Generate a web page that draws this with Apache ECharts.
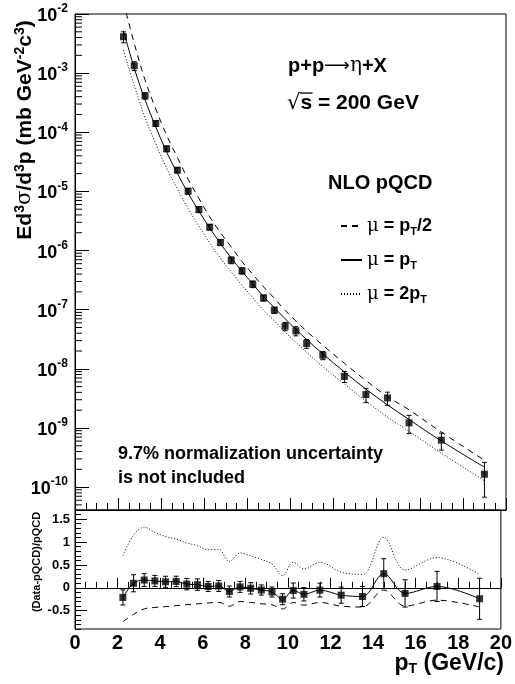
<!DOCTYPE html>
<html>
<head>
<meta charset="utf-8">
<script src="https://cdn.jsdelivr.net/npm/echarts@6/dist/echarts.min.js"></script>
<style>
  html, body { margin: 0; padding: 0; background: #fff; }
  #c { width: 515px; height: 684px; }
</style>
</head>
<body>
<div id="c"></div>
<script>
// Transverse momentum bin centres (GeV/c)
const pt = [2.25, 2.75, 3.25, 3.75, 4.25, 4.75, 5.25, 5.75, 6.25, 6.75, 7.25, 7.75,
            8.25, 8.75, 9.25, 9.75, 10.25, 10.75, 11.5, 12.5, 13.5, 14.5, 15.5, 17, 19];

// Measured invariant cross section E d3sigma/dp3 (mb GeV^-2 c^3)
const crossSection = [4.13e-3, 1.33e-3, 4.14e-4, 1.41e-4, 5.26e-5, 2.29e-5, 1.01e-5, 4.95e-6,
                      2.49e-6, 1.37e-6, 6.88e-7, 4.54e-7, 2.70e-7, 1.58e-7, 9.82e-8, 5.26e-8,
                      4.38e-8, 2.68e-8, 1.70e-8, 7.43e-9, 3.67e-9, 3.22e-9, 1.22e-9, 6.21e-10, 1.65e-10];

// Relative (statistical + point-to-point systematic) uncertainty of each point
const relErr = [0.21, 0.17, 0.12, 0.105, 0.107, 0.10, 0.115, 0.117, 0.107, 0.115, 0.13, 0.118,
                0.126, 0.116, 0.12, 0.16, 0.175, 0.17, 0.16, 0.21, 0.27, 0.25, 0.34, 0.32, 0.59];

// NLO pQCD, scale mu = pT/2
const nloHalf = [1.59e-2, 3.17e-3, 7.67e-4, 2.47e-4, 8.92e-5, 3.75e-5, 1.60e-5, 7.62e-6,
                 3.72e-6, 2.01e-6, 1.15e-6, 6.49e-7, 3.97e-7, 2.43e-7, 1.56e-7, 9.74e-8,
                 6.44e-8, 4.32e-8, 2.50e-8, 1.24e-8, 6.33e-9, 3.39e-9, 2.03e-9, 8.51e-10, 2.84e-10];

// NLO pQCD, scale mu = pT
const nloPt = [5.23e-3, 1.21e-3, 3.54e-4, 1.226e-4, 4.65e-5, 2.01e-5, 9.35e-6, 4.63e-6,
               2.42e-6, 1.317e-6, 7.48e-7, 4.45e-7, 2.73e-7, 1.66e-7, 1.08e-7, 7.01e-8,
               4.66e-8, 3.12e-8, 1.79e-8, 8.85e-9, 4.53e-9, 2.46e-9, 1.39e-9, 6.03e-10, 2.17e-10];

// NLO pQCD, scale mu = 2pT
const nloTwo = [2.42e-3, 6.19e-4, 1.78e-4, 6.38e-5, 2.48e-5, 1.11e-5, 5.10e-6, 2.58e-6,
                1.36e-6, 7.45e-7, 4.38e-7, 2.58e-7, 1.59e-7, 9.75e-8, 6.46e-8, 4.17e-8,
                2.81e-8, 1.90e-8, 1.09e-8, 5.54e-9, 2.84e-9, 1.53e-9, 8.78e-10, 3.74e-10, 1.28e-10];

const xTicks = [0, 20, 2];          // min, max, step of the pT axis
const yLogRange = [4.1e-11, 1e-2];  // upper panel
const ratioRange = [-0.9, 1.7];     // lower panel

const FONT = '"Liberation Sans", Arial, Helvetica, sans-serif';
const SYM = '"DejaVu Serif", "Liberation Serif", serif';
const SYMS = '"DejaVu Sans", sans-serif';
const INK = '#000';

// (Data - pQCD) / pQCD for each scale choice
const ratioData = crossSection.map((v, i) => v / nloPt[i] - 1);
const ratioHalf = crossSection.map((v, i) => v / nloHalf[i] - 1);
const ratioTwo = crossSection.map((v, i) => v / nloTwo[i] - 1);
const ratioErr = crossSection.map((v, i) => v * relErr[i] / nloPt[i]);

const pairs = (xs, ys) => xs.map((x, i) => [x, ys[i]]);

// Minor ticks of the log axis: 2..9 x 10^n
const logMinor = [];
for (let e = -11; e <= -3; e++) {
  for (let m = 2; m <= 9; m++) {
    const v = m * Math.pow(10, e);
    if (v > yLogRange[0] && v < yLogRange[1]) logMinor.push([xTicks[0], v]);
  }
}

function errorBar(params, api) {
  const x = api.value(0);
  const lo = api.coord([x, api.value(1)]);
  const hi = api.coord([x, api.value(2)]);
  const w = 2.5;
  const st = { stroke: INK, lineWidth: 1 };
  return {
    type: 'group',
    children: [
      { type: 'line', shape: { x1: lo[0], y1: lo[1], x2: hi[0], y2: hi[1] }, style: st },
      { type: 'line', shape: { x1: lo[0] - w, y1: lo[1], x2: lo[0] + w, y2: lo[1] }, style: st },
      { type: 'line', shape: { x1: hi[0] - w, y1: hi[1], x2: hi[0] + w, y2: hi[1] }, style: st }
    ]
  };
}

const absErrData = pt.map((x, i) => [x, crossSection[i] * (1 - relErr[i]), crossSection[i] * (1 + relErr[i])]);
const ratioErrData = pt.map((x, i) => [x, ratioData[i] - ratioErr[i], ratioData[i] + ratioErr[i]]);

const legendText = {
  scaleHalf: '{mu|μ}{b| = p}{sub|T}{b|/2}',
  scalePt: '{mu|μ}{b| = p}{sub|T}',
  scaleTwo: '{mu|μ}{b| = 2p}{sub|T}'
};

const lineCommon = { type: 'line', smooth: 0.35, symbol: 'none', showSymbol: false, silent: true, clip: true };

const xAxisBase = {
  type: 'value', min: xTicks[0], max: xTicks[1], interval: xTicks[2],
  axisLine: { show: true, lineStyle: { color: INK, width: 1 } },
  splitLine: { show: false },
  minorTick: { show: true, splitNumber: 4, length: 7, lineStyle: { color: INK, width: 1 } },
  axisTick: { show: true, inside: true, length: 12, lineStyle: { color: INK, width: 1 } }
};

// "sqrt(s) = 200 GeV" label: root sign followed by an overlined s
const SQ_LEFT = 287, SQ_TOP = 93, SQ_SIZE = 21, SQ_LINE = 24;
const measure = document.createElement('canvas').getContext('2d');
measure.textBaseline = 'middle';
measure.font = SQ_SIZE + 'px "DejaVu Sans"';
const rootBox = measure.measureText('√');
measure.font = 'bold ' + SQ_SIZE + 'px "Liberation Sans"';
const sBox = measure.measureText('s');
const barY = SQ_TOP + SQ_LINE / 2 - rootBox.actualBoundingBoxAscent + 0.6;
const barX0 = SQ_LEFT + rootBox.actualBoundingBoxRight - 0.8;
const barX1 = SQ_LEFT + rootBox.width + sBox.width + 0.5;

const option = {
  animation: false,
  backgroundColor: '#fff',
  textStyle: { fontFamily: FONT },
  grid: [
    { left: 75, top: 14, width: 431, height: 496, show: true, borderColor: INK, borderWidth: 1 },
    { left: 75, top: 510, width: 431, height: 119, show: true, borderColor: INK, borderWidth: 1 }
  ],
  xAxis: [
    Object.assign({}, xAxisBase, { gridIndex: 0, axisLabel: { show: false } }),
    Object.assign({}, xAxisBase, {
      gridIndex: 1,
      axisTick: { show: true, inside: true, length: 10, lineStyle: { color: INK } },
      minorTick: { show: true, splitNumber: 4, length: 6, lineStyle: { color: INK } },
      axisLabel: { show: true, color: INK, fontFamily: FONT, fontWeight: 'bold', fontSize: 20, margin: 4 }
    })
  ],
  yAxis: [
    {
      type: 'log', logBase: 10, gridIndex: 0, min: yLogRange[0], max: yLogRange[1],
      axisLine: { show: true, lineStyle: { color: INK } },
      splitLine: { show: false },
      axisTick: { show: true, inside: true, length: 14, lineStyle: { color: INK } },
      axisLabel: {
        show: true, margin: 7, showMinLabel: false,
        formatter: v => {
          const e = Math.log10(v), r = Math.round(e);
          return Math.abs(e - r) > 1e-6 ? '' : '{b|10}{s|' + r + '}';
        },
        rich: {
          b: { fontFamily: FONT, fontWeight: 'bold', fontSize: 18, color: INK, lineHeight: 22, verticalAlign: 'bottom' },
          s: { fontFamily: FONT, fontWeight: 'bold', fontSize: 12, color: INK, lineHeight: 14, verticalAlign: 'top' }
        }
      }
    },
    {
      type: 'value', gridIndex: 1, position: 'left', min: ratioRange[0], max: ratioRange[1], splitNumber: 5,
      axisLine: { show: true, lineStyle: { color: INK } },
      splitLine: { show: false },
      axisTick: { show: true, inside: true, length: 12, lineStyle: { color: INK } },
      axisLabel: { show: true, showMinLabel: false, showMaxLabel: false, margin: 5, color: INK,
                   fontFamily: FONT, fontWeight: 'bold', fontSize: 13 }
    },
    {
      type: 'value', gridIndex: 1, position: 'left', min: ratioRange[0], max: ratioRange[1], interval: 0.1,
      axisLine: { show: false },
      splitLine: { show: false },
      axisTick: { show: true, inside: true, length: 6, lineStyle: { color: INK } },
      axisLabel: { show: false }
    }
  ],
  legend: {
    orient: 'vertical', left: 335, top: 212, itemWidth: 21, itemHeight: 12, itemGap: 14,
    selectedMode: false, data: ['scaleHalf', 'scalePt', 'scaleTwo'],
    itemStyle: { opacity: 0 },
    formatter: n => legendText[n],
    textStyle: {
      rich: {
        mu: { fontFamily: SYM, fontSize: 18, color: INK, lineHeight: 22 },
        b: { fontFamily: FONT, fontWeight: 'bold', fontSize: 18, color: INK, lineHeight: 22 },
        sub: { fontFamily: FONT, fontWeight: 'bold', fontSize: 11, color: INK, lineHeight: 9, verticalAlign: 'bottom' }
      }
    }
  },
  graphic: [
    { type: 'text', left: 288, top: 56, silent: true,
      style: { rich: {
        b: { fontFamily: FONT, fontWeight: 'bold', fontSize: 20, fill: INK, lineHeight: 22 },
        a: { fontFamily: SYMS, fontSize: 18, fill: INK, lineHeight: 22 },
        s: { fontFamily: SYM, fontSize: 20, fill: INK, lineHeight: 22 }
      }, text: '{b|p+p}{a|⟶}{s|η}{b|+X}' } },
    { type: 'text', left: SQ_LEFT, top: SQ_TOP, silent: true,
      style: { rich: {
        s: { fontFamily: SYMS, fontSize: SQ_SIZE, fill: INK, lineHeight: SQ_LINE },
        b: { fontFamily: FONT, fontWeight: 'bold', fontSize: SQ_SIZE, fill: INK, lineHeight: SQ_LINE }
      }, text: '{s|√}{b|s = 200 GeV}' } },
    { type: 'line', silent: true, shape: { x1: barX0, y1: barY, x2: barX1, y2: barY },
      style: { stroke: INK, lineWidth: 1.3 } },
    { type: 'text', left: 328, top: 173, silent: true,
      style: { text: 'NLO pQCD', font: 'bold 20px ' + FONT, fill: INK } },
    { type: 'text', left: 118, top: 445, silent: true,
      style: { text: '9.7% normalization uncertainty', font: 'bold 18px ' + FONT, fill: INK } },
    { type: 'text', left: 118, top: 469, silent: true,
      style: { text: 'is not included', font: 'bold 18px ' + FONT, fill: INK } },
    { type: 'text', x: 25, y: 130, rotation: Math.PI / 2, silent: true,
      style: { align: 'center', verticalAlign: 'middle', rich: {
        t: { fontFamily: FONT, fontWeight: 'bold', fontSize: 21, fill: INK, lineHeight: 24 },
        g: { fontFamily: SYM, fontSize: 21, fill: INK, lineHeight: 24 },
        u: { fontFamily: FONT, fontWeight: 'bold', fontSize: 14, fill: INK, lineHeight: 15, verticalAlign: 'top' }
      }, text: '{t|Ed}{u|3}{g|σ}{t|/d}{u|3}{t|p (mb GeV}{u|-2}{t|c}{u|3}{t|)}' } },
    { type: 'text', x: 37, y: 562, rotation: Math.PI / 2, silent: true,
      style: { align: 'center', verticalAlign: 'middle', text: '(Data-pQCD)/pQCD', font: 'bold 11px ' + FONT, fill: INK } },
    { type: 'text', right: 11, top: 652, silent: true,
      style: { rich: {
        b: { fontFamily: FONT, fontWeight: 'bold', fontSize: 23, fill: INK, lineHeight: 26 },
        sub: { fontFamily: FONT, fontWeight: 'bold', fontSize: 14, fill: INK, lineHeight: 11, verticalAlign: 'bottom' }
      }, text: '{b|p}{sub|T}{b| (GeV/c)}' } }
  ],
  series: [
    // Upper panel: minor ticks of the logarithmic axis
    { type: 'custom', xAxisIndex: 0, yAxisIndex: 0, silent: true, data: logMinor,
      renderItem: (p, api) => {
        const c = api.coord([api.value(0), api.value(1)]);
        return { type: 'line', shape: { x1: c[0], y1: c[1], x2: c[0] + 7, y2: c[1] }, style: { stroke: INK, lineWidth: 1 } };
      } },
    Object.assign({}, lineCommon, { name: 'scaleHalf', xAxisIndex: 0, yAxisIndex: 0, data: pairs(pt, nloHalf),
      lineStyle: { color: INK, width: 1, type: [6, 5] }, itemStyle: { color: INK } }),
    Object.assign({}, lineCommon, { name: 'scalePt', xAxisIndex: 0, yAxisIndex: 0, data: pairs(pt, nloPt),
      lineStyle: { color: INK, width: 1, type: 'solid' }, itemStyle: { color: INK } }),
    Object.assign({}, lineCommon, { name: 'scaleTwo', xAxisIndex: 0, yAxisIndex: 0, data: pairs(pt, nloTwo),
      lineStyle: { color: INK, width: 1, type: [1, 2] }, itemStyle: { color: INK } }),
    { type: 'custom', xAxisIndex: 0, yAxisIndex: 0, silent: true, data: absErrData, renderItem: errorBar, z: 3 },
    { type: 'scatter', xAxisIndex: 0, yAxisIndex: 0, silent: true, data: pairs(pt, crossSection),
      symbol: 'rect', symbolSize: 7, itemStyle: { color: INK }, z: 4 },

    // Lower panel: ratios to NLO pQCD
    Object.assign({}, lineCommon, { xAxisIndex: 1, yAxisIndex: 1, data: pairs(pt, ratioTwo),
      lineStyle: { color: INK, width: 1, type: [1, 2] } }),
    Object.assign({}, lineCommon, { xAxisIndex: 1, yAxisIndex: 1, data: pairs(pt, ratioHalf),
      lineStyle: { color: INK, width: 1, type: [6, 5] } }),
    Object.assign({}, lineCommon, { xAxisIndex: 1, yAxisIndex: 1, data: pairs(pt, ratioData),
      lineStyle: { color: INK, width: 1, type: 'solid' },
      markLine: { silent: true, symbol: 'none', label: { show: false },
        lineStyle: { color: INK, width: 1, type: 'solid' }, data: [{ yAxis: 0 }] } }),
    { type: 'custom', xAxisIndex: 1, yAxisIndex: 1, silent: true, data: ratioErrData, renderItem: errorBar, z: 3 },
    { type: 'scatter', xAxisIndex: 1, yAxisIndex: 1, silent: true, data: pairs(pt, ratioData),
      symbol: 'rect', symbolSize: 7, itemStyle: { color: INK }, z: 4 }
  ]
};

const chart = echarts.init(document.getElementById('c'));
chart.setOption(option);
</script>
</body>
</html>
